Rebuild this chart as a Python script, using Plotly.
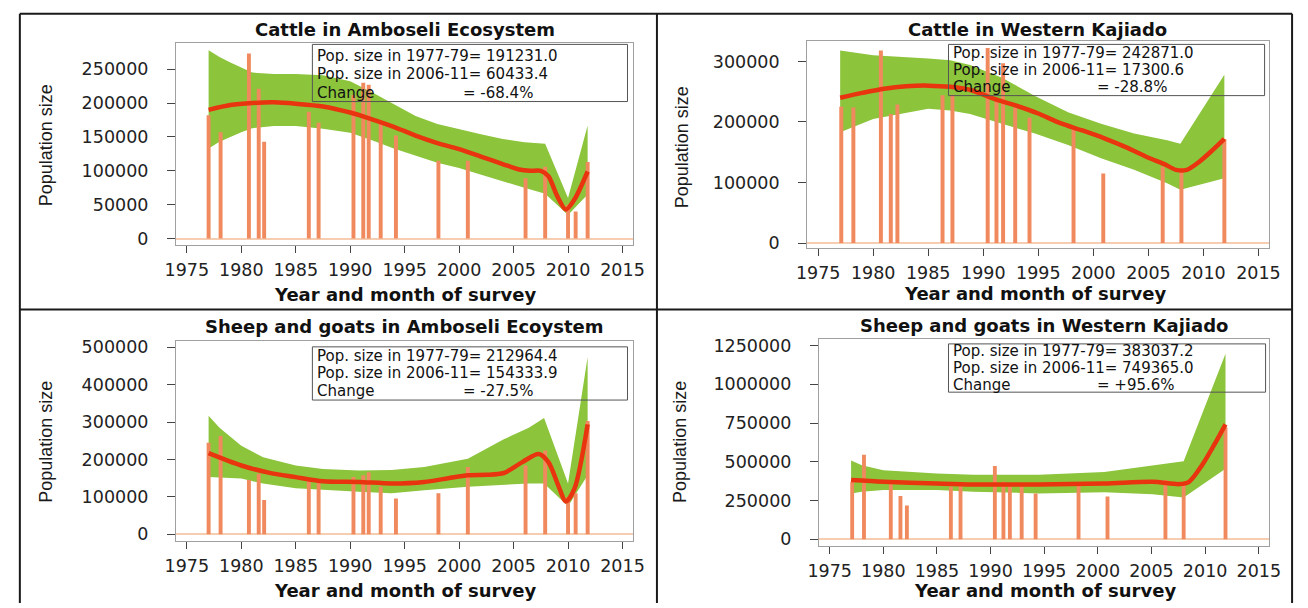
import plotly.graph_objects as go

W, H = 1308, 608

# ---------------- data ----------------
survey_years_amb = [1977.0, 1978.1, 1980.7, 1981.6, 1982.1, 1986.2, 1987.1, 1990.3, 1991.2, 1991.7,
                    1992.8, 1994.2, 1998.1, 2000.8, 2006.1, 2007.9, 2010.0, 2010.7, 2011.8]
survey_years_wk = [1977.1, 1978.2, 1980.7, 1981.6, 1982.2, 1986.3, 1987.2, 1990.4, 1991.2, 1991.8,
                   1992.9, 1994.2, 1998.2, 2000.9, 2006.3, 2008.0, 2011.9]

cattle_amb_counts = [182000, 157000, 273000, 221000, 143000, 187000, 171000, 212000, 230000, 227000,
                     169000, 152000, 115000, 115000, 89000, 106000, 50000, 40000, 113000]
cattle_wk_counts = [225000, 224000, 318000, 213000, 229000, 244000, 245000, 322000, 237000, 297000,
                    224000, 207000, 189000, 115000, 126000, 124000, 172000]
shoats_amb_counts = [245000, 263000, 145000, 162000, 92000, 145000, 145000, 153000, 158000, 166000,
                     127000, 96000, 110000, 180000, 184000, 224000, 100000, 110000, 303000]
shoats_wk_counts = [371000, 545000, 360000, 280000, 218000, 339000, 360000, 473000, 371000, 360000,
                    350000, 296000, 350000, 276000, 382000, 350000, 721000]

# trend lines
cattle_amb_trend_x = [1977, 1979, 1981, 1983, 1985, 1987.5, 1990, 1992, 1994, 1996, 1998, 2000, 2002,
                      2004, 2005.5, 2006.5, 2007.5, 2008.2, 2009, 2009.8, 2010.6, 2011.8]
cattle_amb_trend_y = [190000, 197000, 200000, 201000, 199000, 195000, 186000, 176000, 165000, 152000,
                      141000, 132000, 121000, 110000, 102000, 100000, 100000, 92000, 63000, 43000,
                      58000, 99000]
cattle_wk_trend_x = [1977, 1979, 1981, 1983, 1985, 1987, 1989, 1991, 1993, 1995, 1997, 1999, 2001,
                     2003, 2005, 2006.5, 2007.5, 2008.5, 2009.6, 2010.8, 2011.9]
cattle_wk_trend_y = [240000, 248000, 255000, 259000, 260000, 258000, 252000, 238000, 227000, 214000,
                     198000, 186000, 173000, 158000, 141000, 130000, 121000, 121000, 134000, 153000,
                     172000]
shoats_amb_trend_x = [1977, 1980, 1982.5, 1985, 1987.5, 1990.8, 1993.8, 1996.8, 1999, 2000.8, 2002.5,
                      2004.1, 2005.8, 2007.3, 2008.2, 2009.1, 2009.8, 2010.6, 2011.8]
shoats_amb_trend_y = [217000, 184000, 165000, 153000, 142000, 140000, 136000, 140000, 150000, 158000,
                      159000, 164000, 193000, 215000, 193000, 131000, 88000, 123000, 294000]
shoats_wk_trend_x = [1977, 1980, 1985, 1988.4, 1994.5, 2000.6, 2005.1, 2007.6, 2008.5, 2009.7,
                     2010.8, 2011.9]
shoats_wk_trend_y = [382000, 371000, 360000, 354000, 354000, 360000, 371000, 356000, 371000, 477000,
                     604000, 742000]

# confidence bands
cattle_amb_band_x = [1977, 1978, 1979, 1980, 1981, 1983, 1985, 1987.5, 1990, 1992, 1994, 1996, 1998,
                     2000, 2002, 2004, 2006, 2007.9, 2010, 2011.8]
cattle_amb_band_hi = [278000, 268000, 260000, 252000, 245000, 243000, 243000, 241000, 232000, 216000,
                      198000, 181000, 169000, 161000, 154000, 147000, 142000, 140000, 60000, 167000]
cattle_amb_band_lo = [133000, 143000, 150000, 157000, 163000, 166000, 166000, 162000, 156000, 145000,
                      133000, 122000, 112000, 104000, 95000, 85000, 75000, 66000, 35000, 65000]
cattle_wk_band_x = [1977, 1980, 1985, 1987, 1988.8, 1991.7, 1994.7, 1997.7, 2000.7, 2003.7, 2006.7,
                    2007.9, 2011.9]
cattle_wk_band_hi = [318000, 310000, 305000, 302000, 294000, 273000, 243000, 216000, 197000, 181000,
                     170000, 164000, 278000]
cattle_wk_band_lo = [183000, 205000, 222000, 219000, 213000, 197000, 181000, 162000, 140000, 121000,
                     99000, 88000, 107000]
shoats_amb_band_x = [1977, 1978, 1980, 1982, 1985, 1987.5, 1990.8, 1993.8, 1996.8, 2000.8, 2004.1,
                     2006.4, 2007.8, 2010, 2011.8]
shoats_amb_band_hi = [317000, 285000, 237000, 206000, 184000, 175000, 171000, 172000, 180000, 202000,
                      254000, 285000, 311000, 136000, 474000]
shoats_amb_band_lo = [153000, 152000, 149000, 136000, 123000, 118000, 114000, 110000, 118000, 127000,
                      133000, 136000, 136000, 75000, 158000]
shoats_wk_band_x = [1977, 1978, 1980, 1985, 1988.4, 1994.5, 2000.6, 2005.1, 2008.0, 2011.9]
shoats_wk_band_hi = [509000, 477000, 445000, 424000, 417000, 417000, 435000, 477000, 503000, 1198000]
shoats_wk_band_lo = [296000, 307000, 318000, 318000, 307000, 296000, 303000, 290000, 269000, 455000]

panel_titles = ["Cattle in Amboseli Ecosystem", "Cattle in Western Kajiado",
                "Sheep and goats in Amboseli Ecoystem", "Sheep and goats in Western Kajiado"]
pop_1977_79 = ["191231.0", "242871.0", "212964.4", "383037.2"]
pop_2006_11 = ["60433.4", "17300.6", "154333.9", "749365.0"]
pop_change = ["-68.4%", "-28.8%", "-27.5%", "+95.6%"]

x_ticks = [1975, 1980, 1985, 1990, 1995, 2000, 2005, 2010, 2015]
y_ticks = [
    [0, 50000, 100000, 150000, 200000, 250000],
    [0, 100000, 200000, 300000],
    [0, 100000, 200000, 300000, 400000, 500000],
    [0, 250000, 500000, 750000, 1000000, 1250000],
]
y_ranges = [[-10000, 288000], [-8600, 333000], [-17600, 517000], [-42600, 1293000]]
x_range = [1974, 2016]

counts = [(survey_years_amb, cattle_amb_counts), (survey_years_wk, cattle_wk_counts),
          (survey_years_amb, shoats_amb_counts), (survey_years_wk, shoats_wk_counts)]
trends = [(cattle_amb_trend_x, cattle_amb_trend_y), (cattle_wk_trend_x, cattle_wk_trend_y),
          (shoats_amb_trend_x, shoats_amb_trend_y), (shoats_wk_trend_x, shoats_wk_trend_y)]
bands = [(cattle_amb_band_x, cattle_amb_band_hi, cattle_amb_band_lo),
         (cattle_wk_band_x, cattle_wk_band_hi, cattle_wk_band_lo),
         (shoats_amb_band_x, shoats_amb_band_hi, shoats_amb_band_lo),
         (shoats_wk_band_x, shoats_wk_band_hi, shoats_wk_band_lo)]

# ---------------- layout geometry (pixels) ----------------
plot_px = [(167, 633, 40, 245), (810, 1281, 38, 248), (167, 633, 342, 545), (822, 1281, 340, 550)]
title_px = [(400, 26), (1045, 26), (400, 327), (1051, 326)]
xtitle_px = [(400, 295), (1042, 294), (400, 595), (1052, 595)]
ytitle_px = [(35, 143), (682, 145), (35, 444), (681, 445)]
box_px = [(306, 627, 41, 99), (954, 1276, 41, 93), (306, 627, 348, 402), (954, 1277, 345, 394)]
line_px = [(52.5, 71.5, 90), (49.5, 67, 84.5), (357, 375, 393), (352, 369.5, 387)]
eq_px = [457, 1103, 457, 1103]


def px(x):
    return x / W


def py(y):
    return 1 - y / H


FONT = "DejaVu Sans, Liberation Sans, Arial, sans-serif"
BAND = "#8cc43c"
BAR = "#f08a5e"
LINE = "#e8340f"

fig = go.Figure()
layout = {}
annotations = []
shapes = []

for i in range(4):
    base = i + 1
    over = i + 5
    bx = "x" if base == 1 else f"x{base}"
    by = "y" if base == 1 else f"y{base}"
    ox, oy = f"x{over}", f"y{over}"
    l, r, t, b = plot_px[i]

    # band on base axes
    bxs, hi, lo = bands[i]
    fig.add_trace(go.Scatter(x=list(bxs) + list(bxs)[::-1], y=list(hi) + list(lo)[::-1],
                             fill="toself", fillcolor=BAND, mode="lines",
                             line=dict(width=0, color=BAND), xaxis=bx, yaxis=by,
                             hoverinfo="skip"))
    # bars + trend on overlay axes
    cx, cy = counts[i]
    fig.add_trace(go.Bar(x=cx, y=cy, width=0.36, marker=dict(color=BAR, line=dict(width=0)),
                         xaxis=ox, yaxis=oy))
    tx, ty = trends[i]
    fig.add_trace(go.Scatter(x=tx, y=ty, mode="lines",
                             line=dict(color=LINE, width=4.5, shape="spline", smoothing=0.8),
                             xaxis=ox, yaxis=oy))

    layout[f"xaxis{base}"] = dict(
        domain=[px(l), px(r)], anchor=by, range=x_range, tickvals=x_ticks,
        ticktext=[str(v) for v in x_ticks], ticks="outside", ticklen=7, tickwidth=1,
        tickcolor="#444", showline=True, linecolor="#a0a0a0", linewidth=1, mirror=True,
        showgrid=False, zeroline=False, ticklabelstandoff=2,
        tickfont=dict(family=FONT, size=17.5, color="#222"))
    layout[f"yaxis{base}"] = dict(
        domain=[py(b), py(t)], anchor=bx, range=y_ranges[i], tickvals=y_ticks[i],
        ticktext=[str(v) for v in y_ticks[i]], ticks="outside", ticklen=8, tickwidth=1,
        tickcolor="#444", showline=True, linecolor="#a0a0a0", linewidth=1, mirror=True,
        showgrid=False, zeroline=True, zerolinecolor="#f6cdb0", zerolinewidth=1.5,
        ticklabelstandoff=15, tickfont=dict(family=FONT, size=17.5, color="#222"))
    layout[f"xaxis{over}"] = dict(overlaying=bx, anchor=oy, range=x_range, visible=False)
    layout[f"yaxis{over}"] = dict(overlaying=by, anchor=ox, range=y_ranges[i], visible=False)

    # titles
    annotations.append(dict(text=f"<b>{panel_titles[i]}</b>", x=px(title_px[i][0]),
                            y=py(title_px[i][1]), xref="paper", yref="paper", showarrow=False,
                            xanchor="center", yanchor="middle",
                            font=dict(family=FONT, size=18, color="#111")))
    annotations.append(dict(text="<b>Year and month of survey</b>", x=px(xtitle_px[i][0]),
                            y=py(xtitle_px[i][1]), xref="paper", yref="paper", showarrow=False,
                            xanchor="center", yanchor="middle",
                            font=dict(family=FONT, size=18, color="#111")))
    annotations.append(dict(text="Population size", x=px(ytitle_px[i][0]), y=py(ytitle_px[i][1]),
                            xref="paper", yref="paper", showarrow=False, textangle=-90,
                            xanchor="center", yanchor="middle",
                            font=dict(family="Liberation Sans Narrow, Liberation Sans, Arial",
                                      size=18, color="#1a1a1a")))
    # legend box
    bl, br, bt, bb = box_px[i]
    shapes.append(dict(type="rect", xref="paper", yref="paper", x0=px(bl), x1=px(br),
                       y0=py(bb), y1=py(bt), line=dict(color="#555", width=1),
                       fillcolor="rgba(0,0,0,0)", layer="above"))
    l1, l2, l3 = line_px[i]
    for txt, yy in [(f"Pop. size in 1977-79= {pop_1977_79[i]}", l1),
                    (f"Pop. size in 2006-11= {pop_2006_11[i]}", l2),
                    ("Change", l3)]:
        annotations.append(dict(text=txt, x=px(bl + 3), y=py(yy), xref="paper", yref="paper",
                                showarrow=False, xanchor="left", yanchor="middle",
                                font=dict(family=FONT, size=15, color="#111")))
    annotations.append(dict(text=f"= {pop_change[i]}", x=px(eq_px[i]), y=py(l3), xref="paper",
                            yref="paper", showarrow=False, xanchor="left", yanchor="middle",
                            font=dict(family=FONT, size=15, color="#111")))

# panel frame lines
for x0, y0, x1, y1 in [(8, 10, 1304, 10), (8, 10, 8, 608), (1304, 10, 1304, 608),
                       (657, 10, 657, 608), (8, 310, 1304, 310)]:
    shapes.append(dict(type="line", xref="paper", yref="paper", x0=px(x0), y0=py(y0),
                       x1=px(x1), y1=py(y1), line=dict(color="#1a1a1a", width=2)))

fig.update_layout(width=W, height=H, margin=dict(l=0, r=0, t=0, b=0), showlegend=False,
                  paper_bgcolor="white", plot_bgcolor="white", annotations=annotations,
                  shapes=shapes, **layout)

fig.write_html("out.html")
